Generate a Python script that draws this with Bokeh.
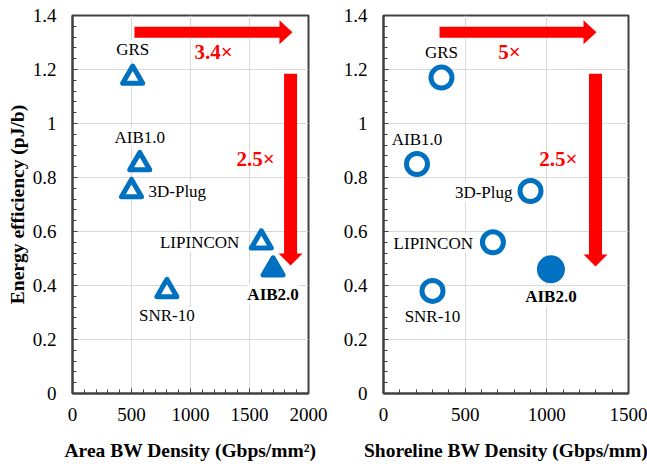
from bokeh.plotting import figure
from bokeh.models import (Range1d, FixedTicker, CustomJSTickFormatter,
                          Label, ColumnDataSource)
from bokeh.layouts import row
from bokeh.embed import file_html
from bokeh.resources import INLINE

# ---------------- data ----------------
names = ["GRS", "AIB1.0", "3D-Plug", "LIPINCON", "AIB2.0", "SNR-10"]
energy = [1.17, 0.85, 0.75, 0.56, 0.46, 0.38]          # pJ/b
area_bw = [510, 570, 500, 1600, 1700, 800]             # Gbps/mm^2
shore_bw = [355, 205, 900, 670, 1025, 300]             # Gbps/mm
highlight = [False, False, False, False, True, False]

y_ticks = [0, 0.2, 0.4, 0.6, 0.8, 1.0, 1.2, 1.4]
area_ticks = [0, 500, 1000, 1500, 2000]
shore_ticks = [0, 500, 1000, 1500]

area_gain_text = "3.4×"
shore_gain_text = "5×"
energy_gain_text = "2.5×"

# annotation anchor points (data units)
area_h_arrow = (525, 1864, 1.338)      # x0, x1, y
area_v_arrow = (1848, 1.184, 0.474)    # x, y0, y1
shore_h_arrow = (343, 1304, 1.338)
shore_v_arrow = (1298, 1.184, 0.470)
area_gain_pos = (1195, 1.263)
area_egain_pos = (1551, 0.870)
shore_gain_pos = (771, 1.263)
shore_egain_pos = (1071, 0.870)

# label placement: (align, x_offset px, y_offset px)
left_label_pos = [("center", 0, 28), ("center", 0, 27), ("left", 17, 0),
                  ("right", -22, 0), ("center", 0, -25), ("center", 0, -25)]
right_label_pos = [("center", 0, 25), ("center", 0, 25), ("right", -18, -1),
                   ("right", -20, -1), ("center", 0, -27), ("center", 0, -26)]

BLUE = "#0070C0"
RED = "#FF0000"
FONT = "Liberation Serif"

FRAME_H = 378
Y_MAX = 1.4


def minor_from(ticks, n):
    out = []
    for a, b in zip(ticks[:-1], ticks[1:]):
        step = (b - a) / n
        out += [a + k * step for k in range(1, n)]
    return out


def make_fig(xmax, xticks, frame_w, xlabel, ylabel, border_left, border_right):
    p = figure(output_backend="svg", toolbar_location=None,
               frame_width=frame_w, frame_height=FRAME_H,
               x_range=Range1d(0, xmax), y_range=Range1d(0, Y_MAX),
               min_border_left=border_left, min_border_right=border_right,
               min_border_top=15, min_border_bottom=71)
    p.background_fill_color = "white"
    p.border_fill_color = "white"
    p.outline_line_color = "#404040"
    p.outline_line_width = 2
    p.xaxis.ticker = FixedTicker(ticks=xticks, minor_ticks=minor_from(xticks, 5))
    p.yaxis.ticker = FixedTicker(ticks=y_ticks, minor_ticks=minor_from(y_ticks, 5))
    fmt = CustomJSTickFormatter(code="return Number(tick.toFixed(2)).toString();")
    for ax in (p.xaxis[0], p.yaxis[0]):
        ax.formatter = fmt
        ax.major_tick_in = 5
        ax.major_tick_out = 0
        ax.minor_tick_in = 4
        ax.minor_tick_out = 0
        ax.major_tick_line_color = "#404040"
        ax.minor_tick_line_color = "#404040"
        ax.axis_line_color = "#404040"
        ax.axis_line_width = 2
        ax.major_label_text_font = FONT
        ax.major_label_text_font_size = "19px"
        ax.major_label_text_color = "black"
        ax.axis_label_text_font = FONT
        ax.axis_label_text_font_size = "19.5px"
        ax.axis_label_text_font_style = "bold"
        ax.axis_label_text_color = "black"
    p.xaxis.axis_label = xlabel
    p.xaxis.major_label_standoff = 14
    p.xaxis.axis_label_standoff = 16
    p.yaxis.major_label_standoff = 16
    p.yaxis.axis_label_standoff = 2
    if ylabel:
        p.yaxis.axis_label = ylabel
    p.grid.grid_line_color = "#D9D9D9"
    p.grid.grid_line_width = 1
    return p


def block_arrow(p, x0, y0, x1, y1, xs, ys, shaft, head_w, head_l):
    if y0 == y1:
        t = shaft / 2 * ys
        hw = head_w / 2 * ys
        hl = head_l * xs
        px = [x0, x1 - hl, x1 - hl, x1, x1 - hl, x1 - hl, x0]
        py = [y0 - t, y0 - t, y0 - hw, y0, y0 + hw, y0 + t, y0 + t]
    else:
        t = shaft / 2 * xs
        hw = head_w / 2 * xs
        hl = head_l * ys
        px = [x0 - t, x0 - t, x0 - hw, x0, x0 + hw, x0 + t, x0 + t]
        py = [y0, y1 + hl, y1 + hl, y1, y1 + hl, y1 + hl, y0]
    p.patch(px, py, fill_color=RED, line_color=None)


def decorate(p, xvals, marker, size, lw, label_pos, h_arrow, v_arrow,
             gain_pos, gain_text, egain_pos, xmax, frame_w):
    xs = xmax / frame_w
    ys = Y_MAX / FRAME_H
    block_arrow(p, h_arrow[0], h_arrow[2], h_arrow[1], h_arrow[2], xs, ys, 11, 24, 13)
    block_arrow(p, v_arrow[0], v_arrow[1], v_arrow[0], v_arrow[2], xs, ys, 13, 24, 12)
    src = ColumnDataSource(dict(x=xvals, y=energy, name=names,
                                fill=[BLUE if h else "white" for h in highlight],
                                size=[size + (2 if (h and marker == "circle") else 0)
                                      for h in highlight]))
    p.scatter("x", "y", source=src, marker=marker, size="size",
              line_color=BLUE, line_width=lw, fill_color="fill",
              line_join="round")
    for xv, yv, nm, hl, (al, dx, dy) in zip(xvals, energy, names, highlight, label_pos):
        p.add_layout(Label(x=xv, y=yv, text=nm, x_offset=dx, y_offset=dy,
                           text_align=al, text_baseline="middle",
                           text_font=FONT, text_font_size="17px",
                           text_font_style="bold" if hl else "normal",
                           text_color="black", background_fill_color="white"))
    for (gx, gy), txt in ((gain_pos, gain_text), (egain_pos, energy_gain_text)):
        p.add_layout(Label(x=gx, y=gy, text=txt, text_align="center",
                           text_baseline="middle", text_font=FONT,
                           text_font_size="21px", text_font_style="bold",
                           text_color=RED))


p1 = make_fig(2000, area_ticks, 236, "Area BW Density (Gbps/mm²)",
              "Energy efficiency (pJ/b)", 72, 30)
decorate(p1, area_bw, "triangle", 20, 5, left_label_pos, area_h_arrow, area_v_arrow,
         area_gain_pos, area_gain_text, area_egain_pos, 2000, 236)

p2 = make_fig(1500, shore_ticks, 245, "Shoreline BW Density (Gbps/mm)", None, 45, 19)
decorate(p2, shore_bw, "circle", 21, 5, right_label_pos, shore_h_arrow, shore_v_arrow,
         shore_gain_pos, shore_gain_text, shore_egain_pos, 1500, 245)

layout = row(p1, p2)
open("out.html", "w").write(file_html(layout, INLINE))
